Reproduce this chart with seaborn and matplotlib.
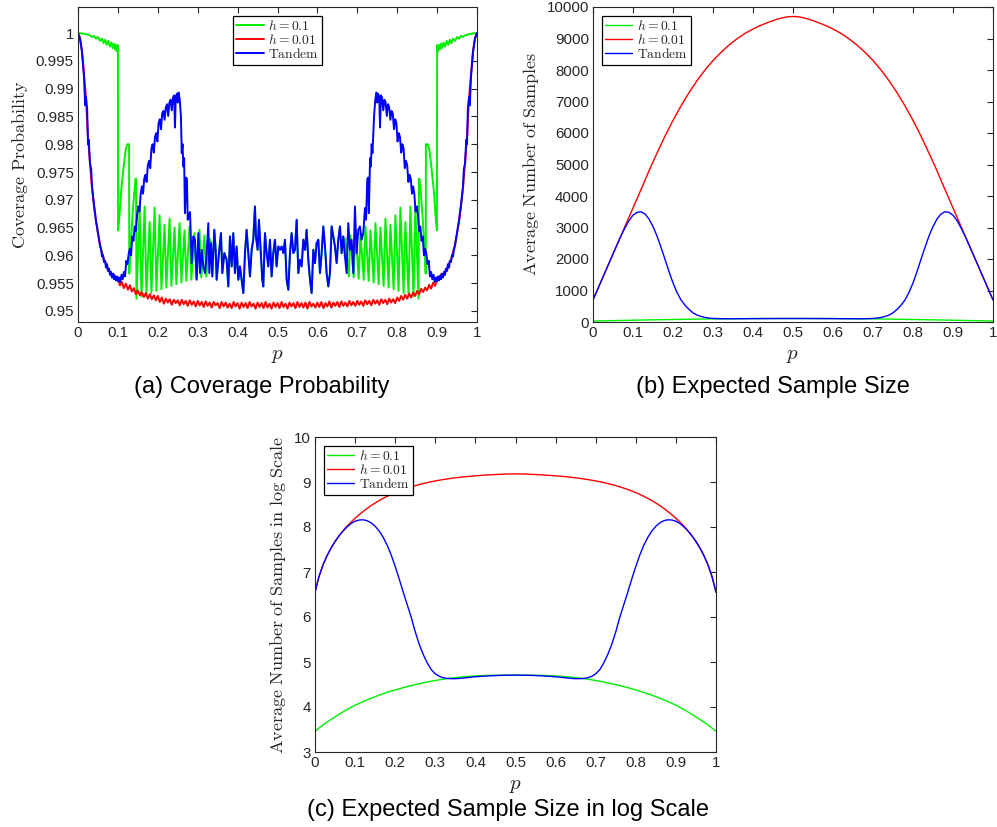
import numpy as np
import pandas as pd
import matplotlib
matplotlib.use("Agg")
import matplotlib.pyplot as plt
import seaborn as sns

# ---------------------------------------------------------------------------
# Coverage probability, h = 0.1 (irregular p grid)
# ---------------------------------------------------------------------------
cov_h1_left_p = [0.000, 0.010, 0.020, 0.030, 0.035, 0.040, 0.045, 0.050, 0.055, 0.060, 0.064, 0.068, 0.072,
                 0.076, 0.080, 0.084, 0.087, 0.090, 0.093, 0.096, 0.098, 0.1000, 0.1005, 0.104, 0.108, 0.112,
                 0.116, 0.120, 0.124, 0.128, 0.1285, 0.132, 0.136, 0.140, 0.144, 0.1455,
                 0.1465, 0.1545, 0.159, 0.167, 0.1715, 0.1795, 0.184, 0.192, 0.1965, 0.2045, 0.209, 0.217,
                 0.2215, 0.2295, 0.234, 0.242, 0.2465, 0.2545, 0.259, 0.267, 0.2715, 0.2795, 0.284, 0.292,
                 0.2965, 0.3045, 0.309, 0.317, 0.3215, 0.3295]
cov_h1_left_v = [1.0000, 0.99995, 0.9998, 0.9996, 0.9993, 0.9995, 0.9990, 0.9993, 0.9986, 0.9990, 0.9982, 0.9988,
                 0.9979, 0.9986, 0.9976, 0.9983, 0.9973, 0.9981, 0.9970, 0.9979, 0.9967, 0.9978, 0.9645, 0.9672,
                 0.9715, 0.9742, 0.9770, 0.9792, 0.9800, 0.9800, 0.9567, 0.9615, 0.9665, 0.9705, 0.9737, 0.9738,
                 0.9522, 0.9687, 0.9526, 0.9688, 0.9529, 0.9660, 0.9532, 0.9686, 0.9536, 0.9672, 0.9539, 0.9655,
                 0.9542, 0.9666, 0.9545, 0.9650, 0.9548, 0.9658, 0.9551, 0.9645, 0.9554, 0.9652, 0.9556, 0.9640,
                 0.9558, 0.9646, 0.9560, 0.9636, 0.9562, 0.9630]
cov_h1_right_p = [0.6705, 0.6785, 0.683, 0.691, 0.6955, 0.7035, 0.708, 0.716, 0.7205, 0.7285, 0.733, 0.741,
                  0.7455, 0.7535, 0.758, 0.766, 0.7705, 0.7785, 0.783, 0.791, 0.7955, 0.8035, 0.808, 0.816,
                  0.8205, 0.8285, 0.833, 0.841, 0.8455, 0.8535,
                  0.8545, 0.856, 0.860, 0.864, 0.868, 0.8715, 0.872, 0.876, 0.880, 0.884, 0.888,
                  0.892, 0.896, 0.8995, 0.900, 0.902, 0.904, 0.907, 0.910, 0.913, 0.916, 0.920, 0.924, 0.928,
                  0.932, 0.936, 0.940, 0.945, 0.950, 0.955, 0.960, 0.965, 0.970, 0.980, 0.990, 1.000]
cov_h1_right_v = [0.9630, 0.9562, 0.9636, 0.9560, 0.9646, 0.9558, 0.9640, 0.9556, 0.9652, 0.9554, 0.9645, 0.9551,
                  0.9658, 0.9548, 0.9650, 0.9545, 0.9666, 0.9542, 0.9655, 0.9539, 0.9672, 0.9536, 0.9686, 0.9532,
                  0.9660, 0.9529, 0.9688, 0.9526, 0.9687, 0.9522,
                  0.9738, 0.9737, 0.9705, 0.9665, 0.9615, 0.9567, 0.9800, 0.9800, 0.9792, 0.9770, 0.9742,
                  0.9715, 0.9672, 0.9645, 0.9978, 0.9967, 0.9979, 0.9970, 0.9981, 0.9973, 0.9983, 0.9976, 0.9986,
                  0.9979, 0.9988, 0.9982, 0.9990, 0.9986, 0.9993, 0.9990, 0.9995, 0.9993, 0.9996, 0.9998, 0.99995,
                  1.0000]

# Central range where the tandem rule falls back to the h = 0.1 stage
cov_mid_p = [0.3333, 0.3366, 0.3416, 0.3450, 0.3475, 0.3533, 0.3583, 0.3617, 0.3667, 0.3725, 0.3767, 0.3809,
             0.3851, 0.3892, 0.3934, 0.3976, 0.4018, 0.4059, 0.4101, 0.4143, 0.4185, 0.4226, 0.4268, 0.4310,
             0.4352, 0.4393, 0.4435, 0.4460, 0.4502, 0.4535, 0.4585, 0.4619, 0.4644, 0.4686, 0.4727, 0.4769,
             0.4811, 0.4853, 0.4894, 0.4936, 0.4978, 0.5020, 0.5062, 0.5104, 0.5146, 0.5187, 0.5229, 0.5271,
             0.5313, 0.5354, 0.5396, 0.5438, 0.5480, 0.5522, 0.5563, 0.5605, 0.5647, 0.5689, 0.5730, 0.5772,
             0.5814, 0.5856, 0.5897, 0.5939, 0.5981, 0.6023, 0.6064, 0.6106, 0.6148, 0.6190, 0.6231, 0.6273,
             0.6315, 0.6357, 0.6398, 0.6440, 0.6482, 0.6524, 0.6565, 0.6607, 0.6649, 0.6691]
cov_mid_v = [0.9622, 0.9562, 0.9646, 0.9610, 0.9556, 0.9604, 0.9640, 0.9568, 0.9604, 0.9592, 0.9544, 0.9634,
             0.9580, 0.9640, 0.9568, 0.9616, 0.9556, 0.9580, 0.9556, 0.9532, 0.9604, 0.9646, 0.9604, 0.9562,
             0.9610, 0.9628, 0.9688, 0.9634, 0.9610, 0.9664, 0.9598, 0.9556, 0.9544, 0.9640, 0.9604, 0.9580,
             0.9628, 0.9562, 0.9604, 0.9628, 0.9580, 0.9616, 0.9610, 0.9616, 0.9604, 0.9628, 0.9556, 0.9538,
             0.9604, 0.9640, 0.9604, 0.9610, 0.9664, 0.9568, 0.9592, 0.9580, 0.9628, 0.9610, 0.9646, 0.9592,
             0.9556, 0.9532, 0.9610, 0.9586, 0.9622, 0.9628, 0.9568, 0.9604, 0.9652, 0.9616, 0.9568, 0.9544,
             0.9568, 0.9652, 0.9634, 0.9616, 0.9586, 0.9628, 0.9652, 0.9604, 0.9634, 0.9598]

# ---------------------------------------------------------------------------
# Coverage probability, tandem procedure
# ---------------------------------------------------------------------------
cov_tan_left_p = [0.000, 0.005, 0.010, 0.015, 0.018, 0.020, 0.023, 0.025, 0.027, 0.030, 0.033, 0.035, 0.038,
                  0.040, 0.043, 0.045, 0.048, 0.050, 0.053, 0.055, 0.058, 0.060, 0.063, 0.065, 0.068, 0.070,
                  0.073, 0.075, 0.078, 0.080, 0.083, 0.085, 0.088, 0.090, 0.093, 0.095, 0.098, 0.100, 0.103,
                  0.106, 0.109, 0.112, 0.115, 0.118, 0.121, 0.124, 0.127, 0.130, 0.133, 0.136, 0.139, 0.142,
                  0.145, 0.148, 0.151, 0.154, 0.157, 0.160, 0.163, 0.166, 0.169, 0.172, 0.175, 0.178, 0.181,
                  0.184, 0.187, 0.190, 0.193, 0.196, 0.199, 0.202, 0.205, 0.208, 0.211, 0.214, 0.217, 0.220,
                  0.223, 0.226, 0.229, 0.232, 0.235, 0.238, 0.241, 0.243, 0.245, 0.248, 0.250, 0.252, 0.255,
                  0.258, 0.260, 0.262, 0.264, 0.266, 0.268, 0.271, 0.273, 0.275, 0.278, 0.2807, 0.2849, 0.2891,
                  0.2932, 0.2974, 0.3016, 0.3058, 0.3100, 0.3141, 0.3183, 0.3225, 0.3266, 0.3291]
cov_tan_left_v = [1.0000, 0.9990, 0.9966, 0.9922, 0.9870, 0.9885, 0.9862, 0.9800, 0.9808, 0.9765, 0.9755, 0.9725,
                  0.9705, 0.9692, 0.9675, 0.9662, 0.9650, 0.9640, 0.9628, 0.9618, 0.9610, 0.9598, 0.9600, 0.9588,
                  0.9590, 0.9578, 0.9584, 0.9572, 0.9576, 0.9565, 0.9570, 0.9560, 0.9567, 0.9557, 0.9563, 0.9555,
                  0.9562, 0.9553, 0.9560, 0.9552, 0.9565, 0.9557, 0.9570, 0.9562, 0.9590, 0.9584, 0.9603, 0.9612,
                  0.9600, 0.9634, 0.9626, 0.9652, 0.9644, 0.9672, 0.9688, 0.9679, 0.9710, 0.9724, 0.9711, 0.9738,
                  0.9745, 0.9732, 0.9762, 0.9770, 0.9757, 0.9792, 0.9800, 0.9785, 0.9813, 0.9820, 0.9805, 0.9838,
                  0.9845, 0.9827, 0.9855, 0.9860, 0.9844, 0.9866, 0.9872, 0.9851, 0.9875, 0.9880, 0.9861, 0.9884,
                  0.9888, 0.9830, 0.9885, 0.9891, 0.9875, 0.9893, 0.9880, 0.9850, 0.9784, 0.9800, 0.9760, 0.9775,
                  0.9676, 0.9740, 0.9737, 0.9664, 0.9672, 0.9678, 0.9586, 0.9634, 0.9628, 0.9556, 0.9640, 0.9568,
                  0.9610, 0.9580, 0.9568, 0.9604, 0.9658, 0.9568]
cov_tan_right_p = [0.6732, 0.6774, 0.6816, 0.6858, 0.6899, 0.6941, 0.6983, 0.7025, 0.7066, 0.7108, 0.7150,
                   0.7192, 0.722, 0.725, 0.727, 0.729, 0.732, 0.734, 0.736, 0.738, 0.742, 0.745, 0.748, 0.750,
                   0.752, 0.755, 0.757, 0.759, 0.762, 0.765, 0.768, 0.771, 0.774, 0.777, 0.780, 0.783, 0.786,
                   0.789, 0.792, 0.795, 0.798, 0.801, 0.804, 0.807, 0.810, 0.813, 0.816, 0.819, 0.822, 0.825,
                   0.828, 0.831, 0.834, 0.837, 0.840, 0.843, 0.846, 0.849, 0.852, 0.855, 0.858, 0.861, 0.864,
                   0.867, 0.870, 0.873, 0.876, 0.879, 0.882, 0.885, 0.888, 0.891, 0.894, 0.897, 0.900, 0.902,
                   0.905, 0.907, 0.910, 0.912, 0.915, 0.917, 0.920, 0.922, 0.925, 0.927, 0.930, 0.932, 0.935,
                   0.937, 0.940, 0.942, 0.945, 0.947, 0.950, 0.952, 0.955, 0.957, 0.960, 0.962, 0.965, 0.967,
                   0.970, 0.973, 0.975, 0.977, 0.980, 0.982, 0.985, 0.990, 0.995, 1.000]
cov_tan_right_v = [0.9568, 0.9658, 0.9610, 0.9628, 0.9568, 0.9688, 0.9604, 0.9646, 0.9652, 0.9628, 0.9640,
                   0.9685, 0.9664, 0.9737, 0.9740, 0.9676, 0.9775, 0.9760, 0.9800, 0.9784, 0.9850, 0.9880, 0.9893,
                   0.9875, 0.9891, 0.9885, 0.9830, 0.9888, 0.9884, 0.9861, 0.9880, 0.9875, 0.9851, 0.9872, 0.9866,
                   0.9844, 0.9860, 0.9855, 0.9827, 0.9845, 0.9838, 0.9805, 0.9820, 0.9813, 0.9785, 0.9800, 0.9792,
                   0.9757, 0.9770, 0.9762, 0.9732, 0.9745, 0.9738, 0.9711, 0.9724, 0.9710, 0.9679, 0.9688, 0.9672,
                   0.9644, 0.9652, 0.9626, 0.9634, 0.9600, 0.9612, 0.9603, 0.9584, 0.9590, 0.9562, 0.9570, 0.9557,
                   0.9565, 0.9552, 0.9560, 0.9553, 0.9562, 0.9555, 0.9563, 0.9557, 0.9567, 0.9560, 0.9570, 0.9565,
                   0.9576, 0.9572, 0.9584, 0.9578, 0.9590, 0.9588, 0.9600, 0.9598, 0.9610, 0.9618, 0.9628, 0.9640,
                   0.9650, 0.9662, 0.9675, 0.9692, 0.9705, 0.9725, 0.9755, 0.9765, 0.9808, 0.9800, 0.9862, 0.9885,
                   0.9870, 0.9922, 0.9966, 0.9990, 1.0000]

# ---------------------------------------------------------------------------
# Coverage probability, h = 0.01 (p = 0, 0.005, ..., 1)
# ---------------------------------------------------------------------------
cov_h2_v = [1.0000, 0.9992, 0.9968, 0.9925, 0.9884, 0.9812, 0.9768, 0.9722, 0.9688, 0.9662,
            0.9641, 0.9619, 0.9606, 0.9592, 0.9586, 0.9574, 0.9571, 0.9563, 0.9566, 0.9557,
            0.9560,
            0.9546, 0.9552, 0.9541, 0.9549, 0.9538, 0.9546, 0.9535, 0.9541, 0.9530, 0.9537,
            0.9528, 0.9534, 0.9525, 0.9532, 0.9522, 0.9530, 0.9521, 0.9528, 0.9519, 0.9527,
            0.9516, 0.9524, 0.9513, 0.9522, 0.9515, 0.9521, 0.9511, 0.9520, 0.9514, 0.9519,
            0.9510, 0.9520, 0.9512, 0.9518, 0.9509, 0.9519, 0.9511, 0.9517, 0.9508, 0.9518,
            0.9510, 0.9516, 0.9507, 0.9517, 0.9509, 0.9515, 0.9506, 0.9516, 0.9510, 0.9514,
            0.9505, 0.9516, 0.9508, 0.9515, 0.9506, 0.9513, 0.9505, 0.9516, 0.9508, 0.9514,
            0.9504, 0.9515, 0.9507, 0.9514, 0.9505, 0.9516, 0.9508, 0.9513, 0.9504, 0.9515,
            0.9507, 0.9514, 0.9505, 0.9516, 0.9506, 0.9513, 0.9504, 0.9515, 0.9507, 0.9514,
            0.9505, 0.9516, 0.9507, 0.9513, 0.9504, 0.9515, 0.9508, 0.9514, 0.9505, 0.9516,
            0.9507, 0.9514, 0.9506, 0.9515, 0.9504, 0.9516, 0.9508, 0.9513, 0.9506, 0.9515,
            0.9507, 0.9516, 0.9505, 0.9514, 0.9508, 0.9517, 0.9506, 0.9515, 0.9509, 0.9516,
            0.9507, 0.9517, 0.9509, 0.9515, 0.9508, 0.9518, 0.9510, 0.9516, 0.9509, 0.9518,
            0.9511, 0.9517, 0.9509, 0.9519, 0.9512, 0.9518, 0.9510, 0.9520, 0.9513, 0.9519,
            0.9511, 0.9521, 0.9514, 0.9520, 0.9512, 0.9522, 0.9515, 0.9521, 0.9514, 0.9524,
            0.9518, 0.9527, 0.9520, 0.9529, 0.9522, 0.9531, 0.9524, 0.9533, 0.9527, 0.9536,
            0.9530, 0.9540, 0.9534, 0.9542, 0.9537, 0.9547, 0.9540, 0.9551, 0.9545, 0.9558,
            0.9557, 0.9566, 0.9563, 0.9571, 0.9574, 0.9586, 0.9592, 0.9606, 0.9619, 0.9641,
            0.9662, 0.9688, 0.9722, 0.9768, 0.9812, 0.9884, 0.9925, 0.9968, 0.9992, 1.0000]

# ---------------------------------------------------------------------------
# Expected number of samples (p = 0, 0.01, ..., 1)
# ---------------------------------------------------------------------------
ess_h1 = [31.8, 34.2, 36.6, 39.0, 41.4, 43.8, 46.4, 49.0, 51.6, 54.2,
          56.8, 59.2, 61.6, 64.0, 66.4, 68.7, 71.0, 73.3, 75.5, 77.7,
          79.8, 81.9, 83.9, 85.9, 87.9, 89.8, 91.6, 93.4, 95.1, 96.8,
          98.4, 99.9, 101.3, 102.6, 103.8, 104.9, 105.9, 106.8, 107.6, 108.3,
          108.9, 109.4, 109.8, 110.1, 110.3, 110.5, 110.6, 110.7, 110.7, 110.8,
          110.8,
          110.8, 110.7, 110.7, 110.6, 110.5, 110.3, 110.1, 109.8, 109.4, 108.9,
          108.3, 107.6, 106.8, 105.9, 104.9, 103.8, 102.6, 101.3, 99.9, 98.4,
          96.8, 95.1, 93.4, 91.6, 89.8, 87.9, 85.9, 83.9, 81.9, 79.8,
          77.7, 75.5, 73.3, 71.0, 68.7, 66.4, 64.0, 61.6, 59.2, 56.8,
          54.2, 51.6, 49.0, 46.4, 43.8, 41.4, 39.0, 36.6, 34.2, 31.8]
ess_h2 = [700, 992, 1284, 1576, 1868, 2160, 2452, 2744, 3036, 3328,
          3620, 3912, 4204, 4500, 4800, 5082, 5360, 5632, 5900, 6153,
          6400, 6633, 6860, 7072, 7280, 7472, 7660, 7832, 8000, 8152,
          8300, 8432, 8560, 8677, 8790, 8892, 8990, 9077, 9160, 9232,
          9300, 9362, 9420, 9472, 9520, 9567, 9610, 9645, 9675, 9692,
          9700,
          9692, 9675, 9645, 9610, 9567, 9520, 9472, 9420, 9362, 9300,
          9232, 9160, 9077, 8990, 8892, 8790, 8677, 8560, 8432, 8300,
          8152, 8000, 7832, 7660, 7472, 7280, 7072, 6860, 6633, 6400,
          6153, 5900, 5632, 5360, 5082, 4800, 4500, 4204, 3912, 3620,
          3328, 3036, 2744, 2452, 2160, 1868, 1576, 1284, 992, 700]
ess_tan = [700, 992, 1284, 1576, 1868, 2160, 2450, 2730, 2990, 3220,
           3390, 3480, 3500, 3430, 3270, 3030, 2730, 2370, 1990, 1600,
           1240, 940, 700, 530, 400, 290, 220, 175, 145, 125,
           114, 108, 104.5, 103, 102.5, 102.5, 103, 104, 105, 106,
           107, 107.6, 108.2, 108.8, 109.3, 109.8, 110.2, 110.5, 110.7, 110.8,
           110.8,
           110.8, 110.7, 110.5, 110.2, 109.8, 109.3, 108.8, 108.2, 107.6, 107,
           106, 105, 104, 103, 102.5, 102.5, 103, 104.5, 108, 114,
           125, 145, 175, 220, 290, 400, 530, 700, 940, 1240,
           1600, 1990, 2370, 2730, 3030, 3270, 3430, 3500, 3480, 3390,
           3220, 2990, 2730, 2450, 2160, 1868, 1576, 1284, 992, 700]

series_labels = [r"$h = 0.1$", r"$h = 0.01$", r"$\mathrm{Tandem}$"]
series_colors = ["#00f000", "#ff0000", "#0000ff"]
x_ticks = [0, 0.1, 0.2, 0.3, 0.4, 0.5, 0.6, 0.7, 0.8, 0.9, 1]
x_ticklabels = ["0", "0.1", "0.2", "0.3", "0.4", "0.5", "0.6", "0.7", "0.8", "0.9", "1"]
cov_ticks = [0.95, 0.955, 0.96, 0.965, 0.97, 0.975, 0.98, 0.985, 0.99, 0.995, 1.0]
cov_ticklabels = ["0.95", "0.955", "0.96", "0.965", "0.97", "0.975", "0.98", "0.985", "0.99", "0.995", "1"]
ess_ticks = list(range(0, 10001, 1000))
log_ticks = [3, 4, 5, 6, 7, 8, 9, 10]

# ---------------------------------------------------------------------------
sns.set_theme(style="white")
plt.rcParams["font.family"] = ["Liberation Sans", "DejaVu Sans"]
plt.rcParams["mathtext.fontset"] = "cm"

INK = "#262626"
fig = plt.figure(figsize=(9.97, 8.27), dpi=100)
W, H = 997.0, 827.0


def make_axes(left, top, right, bottom):
    return fig.add_axes([left / W, 1 - bottom / H, (right - left) / W, (bottom - top) / H])


ax_a = make_axes(78, 7, 477, 322)
ax_b = make_axes(593, 7, 993, 322)
ax_c = make_axes(315, 437, 716, 752)

p_h1 = cov_h1_left_p + cov_mid_p + cov_h1_right_p
v_h1 = cov_h1_left_v + cov_mid_v + cov_h1_right_v
p_tan = cov_tan_left_p + cov_mid_p + cov_tan_right_p
v_tan = cov_tan_left_v + cov_mid_v + cov_tan_right_v
p_h2 = np.linspace(0, 1, len(cov_h2_v))
p_ess = np.linspace(0, 1, len(ess_h1))

cov_series = [(p_h1, v_h1), (p_h2, cov_h2_v), (p_tan, v_tan)]
ess_series = [ess_h1, ess_h2, ess_tan]

for (px, vy), lab, col in zip(cov_series, series_labels, series_colors):
    sns.lineplot(x=np.asarray(px), y=np.asarray(vy), ax=ax_a, color=col, lw=1.4,
                 estimator=None, sort=False, label=lab)

for vals, lab, col in zip(ess_series, series_labels, series_colors):
    sns.lineplot(x=p_ess, y=np.asarray(vals, dtype=float), ax=ax_b, color=col, lw=1.0,
                 estimator=None, sort=False, label=lab)
    sns.lineplot(x=p_ess, y=np.log(np.asarray(vals, dtype=float)), ax=ax_c, color=col, lw=1.0,
                 estimator=None, sort=False, label=lab)


def style(ax, yticks, yticklabels, ylim, ylabel):
    ax.set_xlim(0, 1)
    ax.set_ylim(*ylim)
    ax.set_xticks(x_ticks)
    ax.set_xticklabels(x_ticklabels)
    ax.set_yticks(yticks)
    ax.set_yticklabels(yticklabels)
    ax.tick_params(direction="in", top=True, right=True, length=4, width=0.8,
                   color=INK, labelcolor=INK, labelsize=10.8, pad=3)
    for s in ax.spines.values():
        s.set_color(INK)
        s.set_linewidth(0.8)
    ax.set_xlabel(r"$p$", fontsize=15, color=INK, labelpad=4)
    ax.set_ylabel(ylabel, fontsize=13, color=INK)
    ax.grid(False)


style(ax_a, cov_ticks, cov_ticklabels, (0.948, 1.0047), r"$\mathrm{Coverage\ Probability}$")
style(ax_b, ess_ticks, [str(t) for t in ess_ticks], (0, 10000), r"$\mathrm{Average\ Number\ of\ Samples}$")
style(ax_c, log_ticks, [str(t) for t in log_ticks], (3, 10),
      r"$\mathrm{Average\ Number\ of\ Samples\ in\ log\ Scale}$")

legend_kw = dict(fontsize=9.8, frameon=True, fancybox=False, edgecolor="black", framealpha=1,
                 handlelength=2.0, handletextpad=0.3, labelspacing=0.0, borderpad=0.25,
                 borderaxespad=0.65)
for ax, loc in ((ax_a, "upper center"), (ax_b, "upper left"), (ax_c, "upper left")):
    lg = ax.legend(loc=loc, **legend_kw)
    lg.get_frame().set_linewidth(0.9)

cap_kw = dict(fontsize=17, color="black", ha="center", va="center")
fig.text(261.5 / W, 1 - 387 / H, "(a) Coverage Probability", **cap_kw)
fig.text(773 / W, 1 - 387 / H, "(b) Expected Sample Size", **cap_kw)
fig.text(508 / W, 1 - 810 / H, "(c) Expected Sample Size in log Scale", **cap_kw)

fig.savefig("out.png", dpi=100)
